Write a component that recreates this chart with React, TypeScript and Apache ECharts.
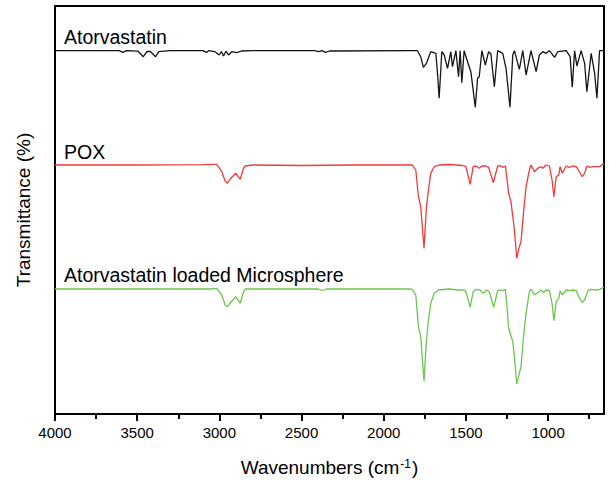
import React, { useEffect, useRef } from "react";
import * as echarts from "echarts";

// Wavenumber (cm-1) vs offset transmittance (arbitrary units, stacked)
const atorvastatin: [number, number][] = [
  [4000, 360.3], [3700, 360.3], [3610, 360.3], [3586, 358.7], [3565, 360.3], [3495, 359.8],
  [3463, 354.3], [3440, 359.5], [3420, 359.5], [3388, 354.3], [3368, 359.3], [3300, 360.3],
  [3100, 360.3], [3077, 358.7], [3066, 360.3], [3026, 359.3], [3001, 356], [2988, 359.5],
  [2975, 355], [2960, 359.8], [2944, 356], [2925, 359.3], [2894, 358.3], [2865, 360],
  [2800, 360.3], [2420, 360.3], [2395, 359.3], [2375, 360.3], [2355, 358.7], [2330, 360],
  [1830, 360.3], [1795, 360.3], [1775, 354.3], [1759, 343.7], [1740, 347.7], [1714, 359.3],
  [1683, 357.7], [1673, 337.7], [1663, 312.7], [1653, 341], [1647, 359.3], [1632, 356],
  [1612, 342.7], [1592, 359.3], [1582, 344.3], [1561, 360.3], [1545, 334.3], [1535, 360.3],
  [1525, 328.3], [1511, 360.3], [1490, 349.3], [1470, 339.3], [1443, 303.7], [1429, 332.7],
  [1419, 334.3], [1403, 360.3], [1382, 346], [1362, 359.3], [1348, 357], [1327, 324.3],
  [1307, 360.3], [1276, 357.7], [1256, 342.7], [1232, 303.7], [1215, 356], [1205, 360.3],
  [1175, 341.7], [1154, 360.3], [1134, 336], [1104, 360.3], [1073, 339.3], [1053, 356],
  [1032, 359.3], [1012, 357.7], [992, 360.3], [961, 353.7], [941, 359.3], [890, 360.3],
  [866, 354.3], [853, 323.7], [839, 360.3], [825, 345], [799, 360.3], [778, 347.7],
  [764, 319.3], [738, 357.7], [717, 337.7], [703, 312.7], [687, 360.3], [660, 360.3],
];

const pox: [number, number][] = [
  [4000, 246], [3500, 246], [3100, 246.3], [3030, 246.7], [3016, 246.7], [2985, 239.3],
  [2965, 230], [2951, 227.7], [2935, 232], [2900, 237.7], [2873, 231.7], [2853, 242.7],
  [2843, 245], [2800, 246], [2500, 245.5], [2200, 246], [1850, 246], [1826, 246],
  [1805, 241], [1789, 214.3], [1775, 204.3], [1755, 162.7], [1740, 204.3], [1728, 221],
  [1714, 237.7], [1693, 244.3], [1663, 246], [1600, 246.5], [1520, 245.5], [1500, 244.3],
  [1474, 226.7], [1456, 244.3], [1439, 245], [1419, 242.7], [1403, 245], [1378, 245],
  [1362, 243.7], [1333, 228.3], [1307, 245], [1287, 245], [1277, 243.7], [1260, 245],
  [1252, 234.3], [1240, 217.7], [1226, 209.3], [1205, 181], [1191, 152.7], [1175, 164.3],
  [1165, 169.3], [1150, 197.7], [1134, 224.3], [1114, 241], [1104, 246], [1083, 239.3],
  [1063, 242.7], [1043, 244.3], [1032, 242.7], [1012, 246], [992, 245], [976, 231],
  [965, 214.3], [951, 234.3], [935, 236], [927, 244.3], [914, 237.7], [890, 245],
  [870, 243.7], [849, 245], [829, 244.3], [809, 239.3], [792, 234.3], [778, 237.7],
  [764, 245], [748, 243.7], [727, 244.3], [687, 244.3], [666, 247], [660, 247],
];

const microsphere: [number, number][] = [
  [4000, 122], [3500, 122], [3046, 122], [3016, 122.7], [2985, 116], [2965, 106],
  [2951, 104.3], [2935, 108], [2900, 114.3], [2873, 107.7], [2853, 119.3], [2843, 122],
  [2400, 122], [2375, 120.5], [2350, 122], [1846, 122], [1826, 121.7], [1805, 116],
  [1789, 84.3], [1775, 74.3], [1755, 30], [1740, 71], [1728, 91], [1714, 107.7],
  [1693, 117.7], [1667, 121], [1602, 122], [1551, 121], [1510, 121], [1500, 119.3],
  [1474, 103.7], [1456, 119.3], [1439, 121.7], [1415, 121], [1394, 117.7], [1374, 121],
  [1358, 119.3], [1331, 103.7], [1307, 120.3], [1291, 121], [1277, 120.3], [1260, 121.7],
  [1252, 107.7], [1240, 82.7], [1215, 69.3], [1205, 54.3], [1191, 27], [1175, 37.7],
  [1165, 44.3], [1150, 74.3], [1134, 97.7], [1114, 119.3], [1104, 122], [1083, 116],
  [1063, 118.3], [1043, 121], [1028, 118.3], [1012, 121], [992, 120.3], [976, 107.7],
  [965, 90.3], [951, 109.3], [935, 112.7], [927, 120.3], [914, 116], [890, 121],
  [870, 120.3], [849, 121], [829, 120.3], [809, 112.7], [792, 108.7], [778, 111],
  [758, 120.3], [738, 121.7], [707, 121], [687, 121.7], [666, 123.3], [660, 123.3],
];

const seriesNames = ["Atorvastatin", "POX", "Atorvastatin loaded Microsphere"];
const seriesColors = ["#151515", "#f23a3a", "#6cc64e"];
const majorTicks = [4000, 3500, 3000, 2500, 2000, 1500, 1000];
const minorTicks = [3750, 3250, 2750, 2250, 1750, 1250, 750];

const FONT = '"Liberation Sans", Arial, Helvetica, sans-serif';

export default function App() {
  const ref = useRef<HTMLDivElement>(null);

  useEffect(() => {
    if (!ref.current) return;
    const chart = echarts.init(ref.current, null, { renderer: "svg" });
    const datasets = [atorvastatin, pox, microsphere];
    const labelY = [36.5, 151.5, 275];

    chart.setOption({
      animation: false,
      backgroundColor: "#ffffff",
      grid: {
        left: 55,
        right: 5,
        top: 6,
        bottom: 70,
        show: true,
        borderColor: "#000",
        borderWidth: 2,
        backgroundColor: "transparent",
      },
      xAxis: [
        {
          type: "value",
          min: 660,
          max: 4000,
          inverse: true,
          name: "{a|Wavenumbers (cm}{b|-1}{a|)}",
          nameLocation: "middle",
          nameGap: 44,
          nameTextStyle: {
            rich: {
              a: { fontSize: 19, fontFamily: FONT, color: "#000" },
              b: { fontSize: 12, fontFamily: FONT, color: "#000", verticalAlign: "top", padding: [0, 1, 0, 1] },
            },
          },
          axisLine: { show: true, onZero: false, lineStyle: { color: "#000", width: 2 } },
          axisTick: {
            show: true,
            inside: false,
            length: 7,
            lineStyle: { color: "#000", width: 2 },
            customValues: majorTicks,
          },
          axisLabel: {
            show: true,
            margin: 11,
            fontSize: 15,
            fontFamily: FONT,
            color: "#000",
            customValues: majorTicks,
            formatter: (v: number) => String(v),
          },
          splitLine: { show: false },
        },
        {
          type: "value",
          min: 660,
          max: 4000,
          inverse: true,
          position: "bottom",
          axisLine: { show: true, onZero: false, lineStyle: { color: "#000", width: 2 } },
          axisTick: {
            show: true,
            inside: false,
            length: 5,
            lineStyle: { color: "#000", width: 2 },
            customValues: minorTicks,
          },
          axisLabel: { show: false },
          splitLine: { show: false },
        },
      ],
      yAxis: {
        type: "value",
        min: -3,
        max: 405,
        name: "Transmittance (%)",
        nameLocation: "middle",
        nameGap: 22,
        nameTextStyle: { fontSize: 19, fontFamily: FONT, color: "#000" },
        axisLine: { show: true, onZero: false, lineStyle: { color: "#000", width: 2 } },
        axisTick: { show: false },
        axisLabel: { show: false },
        splitLine: { show: false },
      },
      graphic: seriesNames.map((name, i) => ({
        type: "text",
        x: 64,
        y: labelY[i],
        style: {
          text: name,
          fontSize: 19.5,
          fontFamily: FONT,
          fill: "#000",
          verticalAlign: "middle",
          align: "left",
        },
      })),
      series: datasets.map((d, i) => ({
        name: seriesNames[i],
        type: "line",
        xAxisIndex: 0,
        data: d,
        showSymbol: false,
        symbol: "none",
        lineStyle: { color: seriesColors[i], width: 1.3 },
        clip: true,
      })),
    });

    return () => chart.dispose();
  }, []);

  return (
    <div
      ref={ref}
      style={{ position: "fixed", left: 0, top: 0, width: 609, height: 484 }}
    />
  );
}
